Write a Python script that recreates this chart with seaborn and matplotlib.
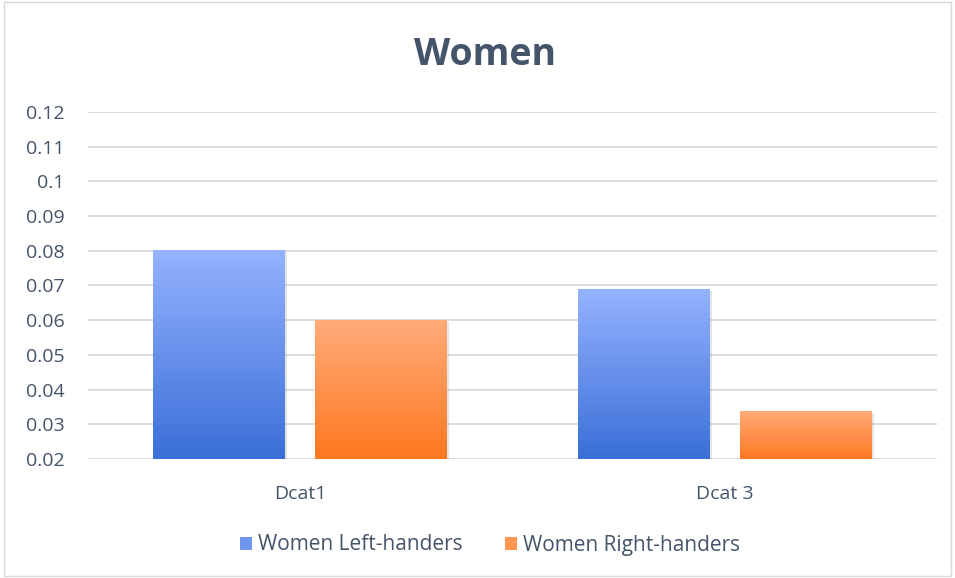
import numpy as np
import pandas as pd
import matplotlib
matplotlib.use("Agg")
import matplotlib.pyplot as plt
import seaborn as sns
from matplotlib.colors import LinearSegmentedColormap
import matplotlib.patheffects as pe
from matplotlib.patches import Patch

categories = ["Dcat1", "Dcat 3"]
series_names = ["Women Left-handers", "Women Right-handers"]
left_values = [0.0803, 0.0690]
right_values = [0.0600, 0.0338]
y_ticks = [0.02, 0.03, 0.04, 0.05, 0.06, 0.07, 0.08, 0.09, 0.1, 0.11, 0.12]
y_tick_labels = ["0.02", "0.03", "0.04", "0.05", "0.06", "0.07", "0.08", "0.09", "0.1", "0.11", "0.12"]

BASE = 0.02
df = pd.DataFrame({
    "category": categories * 2,
    "series": [series_names[0]] * 2 + [series_names[1]] * 2,
    "value": left_values + right_values,
})
df["height"] = df["value"] - BASE

grad = {
    series_names[0]: ("#3A6FD8", "#95B3FF"),
    series_names[1]: ("#FF7820", "#FFAB7A"),
}
solid = {series_names[0]: "#6E96EE", series_names[1]: "#FF9550"}

sns.set_theme(style="white")
plt.rcParams['font.family'] = ['Open Sans', 'DejaVu Sans']

fig = plt.figure(figsize=(9.55, 5.78), dpi=100)
ax = fig.add_axes([88/955, 1-459/578, (937-88)/955, (459-112)/578])

sns.barplot(data=df, x="category", y="height", hue="series", order=categories,
            hue_order=series_names, palette=solid, bottom=BASE, width=0.763,
            gap=0.185, ax=ax, legend=False, saturation=1)

# gradient overlay
for container, name in zip(ax.containers, series_names):
    cmap = LinearSegmentedColormap.from_list(name, list(grad[name]))
    for bar in container:
        bar.set_edgecolor("none")
        bar.set_path_effects([pe.SimplePatchShadow(offset=(1.5, -1.5), shadow_rgbFace="#999999", alpha=0.25), pe.Normal()])
        x0, y0 = bar.get_x(), bar.get_y()
        w, h = bar.get_width(), bar.get_height()
        img = np.linspace(0, 1, 256).reshape(-1, 1)
        im = ax.imshow(img, cmap=cmap, origin="lower", aspect="auto",
                       extent=[x0, x0 + w, y0, y0 + h], zorder=bar.get_zorder() + 0.1)
        im.set_clip_path(bar)

ax.set_xlim(-0.5, 1.5)
ax.set_ylim(0.02, 0.12)
ax.set_yticks(y_ticks)
ax.set_yticklabels(y_tick_labels)
ax.yaxis.grid(True, color="#D9D9D9", linewidth=1.3)
ax.set_axisbelow(True)
for s in ax.spines.values():
    s.set_visible(False)
ax.tick_params(axis="y", length=0, pad=17, labelsize=14, labelcolor="#44546A")
ax.tick_params(axis="x", length=0, pad=19, labelsize=14, labelcolor="#44546A")
ax.set_xlabel("")
ax.set_ylabel("")

fig.text(485/955, 1-55/578, "Women", ha="center", va="center", fontsize=27,
         fontweight="bold", color="#44546A")

handles = [Patch(facecolor=solid[n], edgecolor="none") for n in series_names]
fig.legend(handles, series_names, loc="center", bbox_to_anchor=(490/955, 1-545/578),
           ncol=2, frameon=False, fontsize=15, labelcolor="#44546A",
           handlelength=0.6, handleheight=0.6, handletextpad=0.3, columnspacing=2.0)

fig.patches.append(plt.Rectangle((0.004, 0.003), 0.992, 0.994, transform=fig.transFigure,
                                 fill=False, edgecolor="#D9D9D9", linewidth=1))

fig.savefig("out.png", dpi=100)
